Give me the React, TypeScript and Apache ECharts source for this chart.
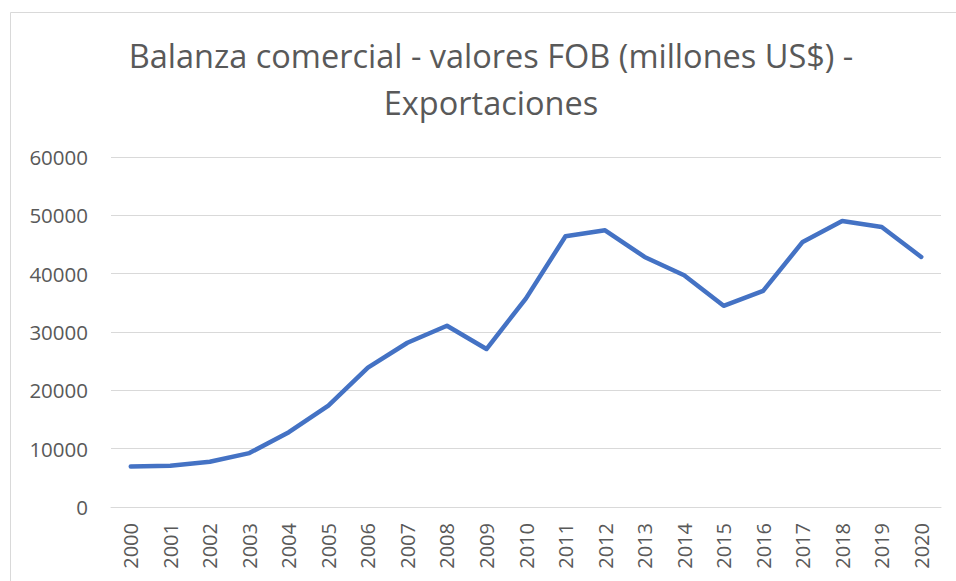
import React, { useEffect, useRef } from "react";
import * as echarts from "echarts";

const years = [
  "2000", "2001", "2002", "2003", "2004", "2005", "2006", "2007", "2008", "2009", "2010",
  "2011", "2012", "2013", "2014", "2015", "2016", "2017", "2018", "2019", "2020",
];
const exportaciones = [
  6950, 7070, 7750, 9240, 12830, 17380, 23880, 28160, 31070, 27080, 35760,
  46420, 47440, 42870, 39740, 34490, 37060, 45440, 49030, 48010, 42870,
];
const titleText = "Balanza comercial - valores FOB (millones US$) -\nExportaciones";

export default function App() {
  const ref = useRef<HTMLDivElement>(null);
  useEffect(() => {
    if (!ref.current) return;
    const chart = echarts.init(ref.current, undefined, { renderer: "svg" });
    const font = "'Open Sans', 'Noto Sans', sans-serif";
    chart.setOption({
      animation: false,
      backgroundColor: "#ffffff",
      title: {
        text: titleText,
        left: 491,
        top: 32,
        textAlign: "center",
        padding: 0,
        textStyle: {
          fontFamily: font,
          fontSize: 32.5,
          fontWeight: "normal",
          color: "#595959",
          lineHeight: 47,
        },
      },
      graphic: [
        {
          type: "rect",
          shape: { x: 10.5, y: 12.5, width: 980, height: 620 },
          style: { fill: "none", stroke: "#d9d9d9", lineWidth: 1 },
          silent: true,
          z: -1,
        },
      ],
      grid: { left: 111, right: 15, top: 157, bottom: 74, containLabel: false },
      xAxis: {
        type: "category",
        data: years,
        boundaryGap: true,
        axisTick: { show: false },
        axisLine: { lineStyle: { color: "#d9d9d9", width: 1 } },
        axisLabel: {
          rotate: 90,
          margin: 16,
          fontFamily: font,
          fontSize: 20,
          color: "#595959",
          interval: 0,
        },
      },
      yAxis: {
        type: "value",
        min: 0,
        max: 60000,
        interval: 10000,
        axisLine: { show: false },
        axisTick: { show: false },
        splitLine: { lineStyle: { color: "#d9d9d9", width: 1 } },
        axisLabel: {
          margin: 23,
          fontFamily: font,
          fontSize: 20.5,
          color: "#595959",
          formatter: (v: number) => String(v),
        },
      },
      series: [
        {
          name: "Exportaciones",
          type: "line",
          data: exportaciones,
          showSymbol: false,
          symbol: "none",
          lineStyle: { color: "#4472C4", width: 4.5, cap: "round", join: "round" },
        },
      ],
    });
    return () => chart.dispose();
  }, []);
  return (
    <div
      ref={ref}
      style={{ position: "absolute", left: 0, top: 0, width: 956, height: 581 }}
    />
  );
}
